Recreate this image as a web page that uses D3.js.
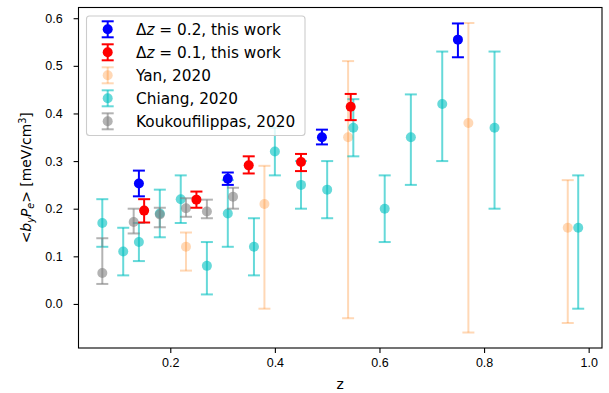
<!DOCTYPE html>
<html>
<head>
<meta charset="utf-8">
<script src="https://cdn.jsdelivr.net/npm/d3@7/dist/d3.min.js"></script>
<style>
  body { margin: 0; background: #fff; }
  svg { font-family: "DejaVu Sans", sans-serif; }
  .axis text { font-size: 12.5px; fill: #000; }
  .axis line { stroke: #000; stroke-width: 1.1; }
</style>
</head>
<body>
<script>
// Δz = 0.2, this work
var blueZ  = [0.14, 0.31, 0.49, 0.75];
var blueV  = [0.253, 0.263, 0.350, 0.555];
var blueLo = [0.226, 0.250, 0.335, 0.518];
var blueHi = [0.280, 0.276, 0.366, 0.589];

// Δz = 0.1, this work
var redZ  = [0.15, 0.25, 0.35, 0.45, 0.545];
var redV  = [0.196, 0.219, 0.291, 0.298, 0.414];
var redLo = [0.171, 0.202, 0.274, 0.279, 0.386];
var redHi = [0.220, 0.236, 0.310, 0.315, 0.441];

// Yan, 2020
var yanZ  = [0.23, 0.38, 0.54, 0.77, 0.96];
var yanV  = [0.12, 0.21, 0.35, 0.38, 0.16];
var yanLo = [0.07, -0.01, -0.03, -0.06, -0.04];
var yanHi = [0.15, 0.29, 0.51, 0.59, 0.26];

// Chiang, 2020
var chiZ  = [0.07, 0.11, 0.14, 0.18, 0.22, 0.27, 0.31, 0.36, 0.40, 0.45, 0.50, 0.55, 0.61, 0.66, 0.72, 0.82, 0.98];
var chiV  = [0.17, 0.11, 0.13, 0.19, 0.22, 0.08, 0.19, 0.12, 0.32, 0.25, 0.24, 0.37, 0.20, 0.35, 0.42, 0.37, 0.16];
var chiLo = [0.12, 0.06, 0.09, 0.14, 0.17, 0.02, 0.12, 0.06, 0.27, 0.20, 0.18, 0.31, 0.13, 0.25, 0.30, 0.20, -0.01];
var chiHi = [0.22, 0.16, 0.17, 0.24, 0.27, 0.13, 0.26, 0.18, 0.37, 0.30, 0.30, 0.43, 0.27, 0.44, 0.53, 0.53, 0.27];

// Koukoufilippas, 2020
var kouZ  = [0.07, 0.13, 0.18, 0.23, 0.27, 0.32];
var kouV  = [0.065, 0.172, 0.188, 0.201, 0.194, 0.225];
var kouLo = [0.042, 0.148, 0.161, 0.183, 0.180, 0.200];
var kouHi = [0.138, 0.200, 0.202, 0.222, 0.219, 0.244];

var xTicks = [0.2, 0.4, 0.6, 0.8, 1.0];
var yTicks = [0.0, 0.1, 0.2, 0.3, 0.4, 0.5, 0.6];

var w = 609, h = 393;
//plot area edges (not "top": that name is taken by window.top)
var mL = 78.5, mR = 602, mT = 7.5, mB = 348;

var svg = d3.select("body").append("svg")
  .attr("width", w)
  .attr("height", h);

var x = d3.scaleLinear().domain([0.0245, 1.0255]).range([mL, mR]);
var y = d3.scaleLinear().domain([-0.0925, 0.6225]).range([mB, mT]);

// build the series table for drawing
function pack(zs, vs, lo, hi) {
  return zs.map(function(z, i) { return {z: z, v: vs[i], lo: lo[i], hi: hi[i]}; });
}
var series = [
  {name: "yan",  color: "#ff7f0e", alpha: 0.3, data: pack(yanZ, yanV, yanLo, yanHi)},
  {name: "chi",  color: "#00bfbf", alpha: 0.6, data: pack(chiZ, chiV, chiLo, chiHi)},
  {name: "kou",  color: "#808080", alpha: 0.6, data: pack(kouZ, kouV, kouLo, kouHi)},
  {name: "red",  color: "#ff0000", alpha: 1, data: pack(redZ, redV, redLo, redHi)},
  {name: "blue", color: "#0000ff", alpha: 1, data: pack(blueZ, blueV, blueLo, blueHi)}
];
var cap = 6;

// axes
var xAxis = svg.append("g")
  .attr("class", "axis")
  .attr("transform", "translate(0," + mB + ")")
  .call(d3.axisBottom(x).tickValues(xTicks).tickFormat(d3.format(".1f"))
    .tickSize(4.9).tickPadding(4.9).tickSizeOuter(0));
xAxis.select(".domain").remove();

var yAxis = svg.append("g")
  .attr("class", "axis")
  .attr("transform", "translate(" + mL + ",0)")
  .call(d3.axisLeft(y).tickValues(yTicks).tickFormat(d3.format(".1f"))
    .tickSize(4.9).tickPadding(11).tickSizeOuter(0));
yAxis.select(".domain").remove();

// error bars and markers
series.forEach(function(s) {
  var g = svg.append("g").attr("class", s.name);
  var pts = g.selectAll("g").data(s.data).enter().append("g");
  pts.append("line")
    .attr("x1", function(d) { return x(d.z); })
    .attr("x2", function(d) { return x(d.z); })
    .attr("y1", function(d) { return y(d.lo); })
    .attr("y2", function(d) { return y(d.hi); })
    .attr("stroke", s.color).attr("stroke-opacity", s.alpha).attr("stroke-width", 2);
  ["lo", "hi"].forEach(function(k) {
    pts.append("line")
      .attr("x1", function(d) { return x(d.z) - cap; })
      .attr("x2", function(d) { return x(d.z) + cap; })
      .attr("y1", function(d) { return y(d[k]); })
      .attr("y2", function(d) { return y(d[k]); })
      .attr("stroke", s.color).attr("stroke-opacity", s.alpha).attr("stroke-width", 2);
  });
  pts.append("circle")
    .attr("cx", function(d) { return x(d.z); })
    .attr("cy", function(d) { return y(d.v); })
    .attr("r", 5)
    .attr("fill", s.color).attr("fill-opacity", s.alpha);
});

// frame
svg.append("rect")
  .attr("x", mL).attr("y", mT)
  .attr("width", mR - mL).attr("height", mB - mT)
  .attr("fill", "none").attr("stroke", "#000").attr("stroke-width", 1.1);

// axis labels
svg.append("text")
  .attr("x", (mL + mR) / 2).attr("y", 389)
  .attr("text-anchor", "middle").attr("font-size", "13.9px")
  .text("z");

var yl = svg.append("text")
  .attr("transform", "translate(31," + ((mT + mB) / 2) + ") rotate(-90)")
  .attr("text-anchor", "middle").attr("font-size", "13.9px");
yl.append("tspan").text("<");
yl.append("tspan").attr("font-style", "italic").text("b");
yl.append("tspan").attr("font-style", "italic").attr("font-size", "9.7px").attr("dy", 2.5).text("y");
yl.append("tspan").attr("font-style", "italic").attr("dy", -2.5).text("P");
yl.append("tspan").attr("font-style", "italic").attr("font-size", "9.7px").attr("dy", 2.5).text("e");
yl.append("tspan").attr("dy", -2.5).text("> [meV/cm");
yl.append("tspan").attr("font-size", "9.7px").attr("dy", -5).text("3");
yl.append("tspan").attr("dy", 5).text("]");

// legend
var legendItems = [
  {color: "#0000ff", alpha: 1, label: ["Δ", "z", " = 0.2, this work"]},
  {color: "#ff0000", alpha: 1, label: ["Δ", "z", " = 0.1, this work"]},
  {color: "#ff7f0e", alpha: 0.3, label: ["Yan, 2020"]},
  {color: "#00bfbf", alpha: 0.6, label: ["Chiang, 2020"]},
  {color: "#808080", alpha: 0.6, label: ["Koukoufilippas, 2020"]}
];
var legend = svg.append("g").attr("class", "legend");
legend.append("rect")
  .attr("x", 86.5).attr("y", 16).attr("width", 218.5).attr("height", 119.5)
  .attr("rx", 3).attr("ry", 3)
  .attr("fill", "#fff").attr("fill-opacity", 0.8)
  .attr("stroke", "#cccccc").attr("stroke-width", 1.1);
legendItems.forEach(function(d, i) {
  var cy = 29.3 + i * 23;
  var g = legend.append("g");
  g.append("line").attr("x1", 107.7).attr("x2", 107.7).attr("y1", cy - 8).attr("y2", cy + 8)
    .attr("stroke", d.color).attr("stroke-opacity", d.alpha).attr("stroke-width", 2);
  [-8, 8].forEach(function(o) {
    g.append("line").attr("x1", 101.7).attr("x2", 113.7).attr("y1", cy + o).attr("y2", cy + o)
      .attr("stroke", d.color).attr("stroke-opacity", d.alpha).attr("stroke-width", 2);
  });
  g.append("circle").attr("cx", 107.7).attr("cy", cy).attr("r", 5)
    .attr("fill", d.color).attr("fill-opacity", d.alpha);
  var t = g.append("text").attr("x", 136).attr("y", cy).attr("dy", "0.35em")
    .attr("font-size", "15.3px");
  d.label.forEach(function(part, j) {
    var ts = t.append("tspan").text(part);
    if (d.label.length > 1 && j === 1) ts.attr("font-style", "italic");
  });
});
</script>
</body>
</html>
